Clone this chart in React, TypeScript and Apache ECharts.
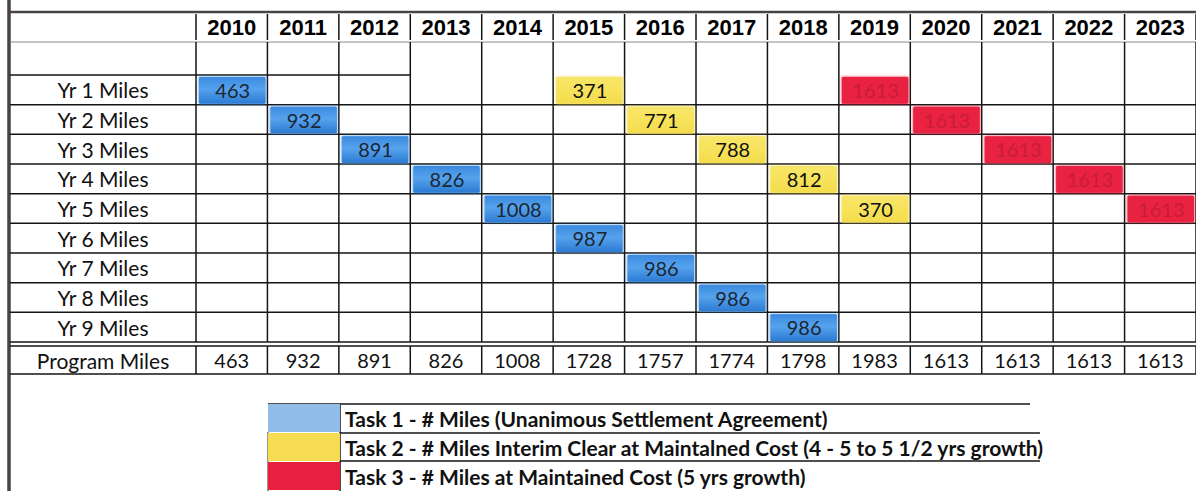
import React, { useEffect, useRef } from "react";
import * as echarts from "echarts";

// ---------- data ----------
const years = ["2010", "2011", "2012", "2013", "2014", "2015", "2016", "2017", "2018", "2019", "2020", "2021", "2022", "2023"];
const rowLabels = ["Yr 1 Miles", "Yr 2 Miles", "Yr 3 Miles", "Yr 4 Miles", "Yr 5 Miles", "Yr 6 Miles", "Yr 7 Miles", "Yr 8 Miles", "Yr 9 Miles"];
const programLabel = ["Program Miles"];
const programMiles = [463, 932, 891, 826, 1008, 1728, 1757, 1774, 1798, 1983, 1613, 1613, 1613, 1613];

const task1Cells: [string, string, number][] = [
  ["2010", "Yr 1 Miles", 463],
  ["2011", "Yr 2 Miles", 932],
  ["2012", "Yr 3 Miles", 891],
  ["2013", "Yr 4 Miles", 826],
  ["2014", "Yr 5 Miles", 1008],
  ["2015", "Yr 6 Miles", 987],
  ["2016", "Yr 7 Miles", 986],
  ["2017", "Yr 8 Miles", 986],
  ["2018", "Yr 9 Miles", 986],
];
const task2Cells: [string, string, number][] = [
  ["2015", "Yr 1 Miles", 371],
  ["2016", "Yr 2 Miles", 771],
  ["2017", "Yr 3 Miles", 788],
  ["2018", "Yr 4 Miles", 812],
  ["2019", "Yr 5 Miles", 370],
];
const task3Cells: [string, string, number][] = [
  ["2019", "Yr 1 Miles", 1613],
  ["2020", "Yr 2 Miles", 1613],
  ["2021", "Yr 3 Miles", 1613],
  ["2022", "Yr 4 Miles", 1613],
  ["2023", "Yr 5 Miles", 1613],
];
const mergedFromYear = "2013"; // blank row merged with Yr 1 from this year on
const legendNames = [
  "Task 1 - # Miles (Unanimous Settlement Agreement)",
  "Task 2 - # Miles Interim Clear at Maintalned Cost (4 - 5 to 5 1/2 yrs growth)",
  "Task 3 - # Miles at Maintained Cost (5 yrs growth)",
];

// ---------- style ----------
const LINE = "#151515";
const LW = 1.5;
const LABEL_LEFT = 10;
const COLW = 71.6;
const GRID_LEFT = 196;
const TEXT_FONT = "Lato";

function ln(x1: number, y1: number, x2: number, y2: number, stroke = LINE, lineWidth = LW) {
  return { type: "line", shape: { x1, y1, x2, y2 }, style: { stroke, lineWidth } };
}

function cellBox(api: any) {
  const c = api.coord([api.value(0), api.value(1)]);
  const s = api.size([1, 1]);
  return { x0: c[0] - s[0] / 2, x1: c[0] + s[0] / 2, y0: c[1] - s[1] / 2, y1: c[1] + s[1] / 2, cx: c[0], cy: c[1] };
}

function txt(text: string, x: number, y: number, fill: string, size: number, weight = "normal", family = TEXT_FONT) {
  return {
    type: "text",
    style: {
      text, x, y, fill,
      align: "center", verticalAlign: "middle",
      textAlign: "center", textVerticalAlign: "middle",
      fontSize: size, fontFamily: family, fontWeight: weight,
    },
  };
}

export default function App() {
  const ref = useRef<HTMLDivElement>(null);
  useEffect(() => {
    if (!ref.current) return;
    const chart = echarts.init(ref.current, undefined, { renderer: "svg" });
    const W = years.length * COLW;
    const mergedIdx = years.indexOf(mergedFromYear);

    const hiddenX = (gi: number) => ({
      type: "category", gridIndex: gi, data: years,
      axisLine: { show: false }, axisTick: { show: false }, axisLabel: { show: false }, splitLine: { show: false },
    });
    const hiddenY = (gi: number) => ({
      type: "category", gridIndex: gi, data: [""],
      axisLine: { show: false }, axisTick: { show: false }, axisLabel: { show: false }, splitLine: { show: false },
    });
    const labelAxis = (gi: number, data: string[]) => ({
      type: "category", gridIndex: gi, data, inverse: true,
      axisLine: { show: false }, axisTick: { show: false }, splitLine: { show: false },
      axisLabel: { margin: 93, align: "center", fontFamily: TEXT_FONT, fontSize: 21, color: "#111" },
    });

    const taskSeries = (name: string, cells: [string, string, number][], color: any, textColor: string, glow: string) => ({
      type: "custom", name, xAxisIndex: 2, yAxisIndex: 2,
      itemStyle: { color: glow },
      data: cells.map((c) => [c[0], c[1], c[2]]),
      renderItem: (_p: any, api: any) => {
        const b = cellBox(api);
        return {
          type: "group",
          children: [
            {
              type: "rect",
              shape: { x: b.x0 + 3, y: b.y0 + 2, width: b.x1 - b.x0 - 5, height: b.y1 - b.y0 - 3, r: 1 },
              style: { fill: color, shadowBlur: 3, shadowColor: glow },
            },
            txt(String(api.value(2)), b.cx + 1, b.cy, textColor, 20),
          ],
        };
      },
    });

    const blueGrad = new echarts.graphic.LinearGradient(0, 0, 0, 1, [
      { offset: 0, color: "#3a8ae0" },
      { offset: 0.45, color: "#56a2ec" },
      { offset: 1, color: "#2c7bd4" },
    ]);
    const yellowGrad = new echarts.graphic.LinearGradient(0, 0, 0, 1, [
      { offset: 0, color: "#f8e66a" },
      { offset: 0.5, color: "#f7e25a" },
      { offset: 1, color: "#f3dc4c" },
    ]);

    const option: any = {
      animation: false,
      backgroundColor: "#ffffff",
      grid: [
        { left: GRID_LEFT, top: 12, width: W, height: 30 },
        { left: GRID_LEFT, top: 42, width: W, height: 33 },
        { left: GRID_LEFT, top: 75, width: W, height: 267 },
        { left: GRID_LEFT, top: 346, width: W, height: 28 },
      ],
      xAxis: [
        {
          type: "category", gridIndex: 0, data: years, position: "bottom",
          axisLine: { show: false }, axisTick: { show: false }, splitLine: { show: false },
          axisLabel: {
            inside: true, margin: 15, verticalAlign: "middle",
            fontFamily: "Liberation Sans", fontWeight: "bold", fontSize: 22, color: "#000",
          },
        },
        hiddenX(1), hiddenX(2), hiddenX(3),
      ],
      yAxis: [hiddenY(0), hiddenY(1), labelAxis(2, rowLabels), labelAxis(3, programLabel)],
      legend: {
        orient: "vertical", left: 268, top: 404, padding: 0,
        itemWidth: 72, itemHeight: 28, itemGap: 1, icon: "rect", selectedMode: false,
        data: [
          { name: legendNames[0], itemStyle: { color: "#8fbde8" } },
          { name: legendNames[1], itemStyle: { color: "#f6dc50" } },
          { name: legendNames[2], itemStyle: { color: "#e8203f" } },
        ],
        textStyle: { fontFamily: TEXT_FONT, fontWeight: "bold", fontSize: 21, color: "#111" },
      },
      series: [
        // header borders
        {
          type: "custom", xAxisIndex: 0, yAxisIndex: 0, silent: true,
          data: years.map((y) => [y, ""]),
          renderItem: (_p: any, api: any) => {
            const b = cellBox(api);
            const i = api.value(0);
            const ch: any[] = [ln(b.x1, b.y0 + 2, b.x1, b.y1 - 2), ln(i === 0 ? LABEL_LEFT : b.x0, b.y1, b.x1, b.y1, "#8a8a8a", 1.2)];
            if (i === 0) ch.push(ln(b.x0, b.y0 + 2, b.x0, b.y1 - 2));
            return { type: "group", children: ch };
          },
        },
        // blank row borders
        {
          type: "custom", xAxisIndex: 1, yAxisIndex: 1, silent: true,
          data: years.map((y) => [y, ""]),
          renderItem: (_p: any, api: any) => {
            const b = cellBox(api);
            const i = api.value(0);
            const ch: any[] = [ln(b.x1, b.y0, b.x1, b.y1)];
            if (i < mergedIdx) ch.push(ln(i === 0 ? LABEL_LEFT : b.x0, b.y1, b.x1, b.y1));
            if (i === 0) ch.push(ln(b.x0, b.y0, b.x0, b.y1));
            return { type: "group", children: ch };
          },
        },
        // body borders
        {
          type: "custom", xAxisIndex: 2, yAxisIndex: 2, silent: true,
          data: rowLabels.flatMap((r) => years.map((y) => [y, r])),
          renderItem: (_p: any, api: any) => {
            const b = cellBox(api);
            const i = api.value(0);
            const ch: any[] = [ln(b.x1, b.y0, b.x1, b.y1), ln(i === 0 ? LABEL_LEFT : b.x0, b.y1, b.x1, b.y1)];
            if (i === 0) ch.push(ln(b.x0, b.y0, b.x0, b.y1));
            return { type: "group", children: ch };
          },
        },
        taskSeries(legendNames[0], task1Cells, blueGrad, "#1b2633", "#3a8fe4"),
        taskSeries(legendNames[1], task2Cells, yellowGrad, "#111111", "#f5df55"),
        taskSeries(legendNames[2], task3Cells, "#e8213f", "#c81d38", "#e8213f"),
        // program miles row
        {
          type: "custom", xAxisIndex: 3, yAxisIndex: 3, silent: true,
          data: years.map((y, i) => [y, programLabel[0], programMiles[i]]),
          renderItem: (_p: any, api: any) => {
            const b = cellBox(api);
            const i = api.value(0);
            const xl = i === 0 ? LABEL_LEFT : b.x0;
            const ch: any[] = [
              ln(xl, b.y0, b.x1, b.y0),
              ln(xl, b.y1, b.x1, b.y1),
              ln(b.x1, b.y0, b.x1, b.y1),
              txt(String(api.value(2)), b.cx, b.cy, "#111", 20),
            ];
            if (i === 0) ch.push(ln(b.x0, b.y0, b.x0, b.y1));
            return { type: "group", children: ch };
          },
        },
      ],
      graphic: [
        { type: "line", shape: { x1: 9, y1: 0, x2: 9, y2: 491 }, style: { stroke: "#4a4343", lineWidth: 3.5 } },
        { type: "line", shape: { x1: 8, y1: 12, x2: 1196, y2: 12 }, style: { stroke: "#4a4343", lineWidth: 2.5 } },
        { type: "line", shape: { x1: 268, y1: 404, x2: 1030, y2: 404 }, style: { stroke: LINE, lineWidth: 1.5 } },
        { type: "line", shape: { x1: 340, y1: 433, x2: 1040, y2: 433 }, style: { stroke: LINE, lineWidth: 1.5 } },
        { type: "line", shape: { x1: 340, y1: 461, x2: 1040, y2: 461 }, style: { stroke: LINE, lineWidth: 1.5 } },
        { type: "line", shape: { x1: 340, y1: 404, x2: 340, y2: 491 }, style: { stroke: LINE, lineWidth: 1.5 } },
        { type: "line", shape: { x1: 268, y1: 432, x2: 268, y2: 491 }, style: { stroke: "#333", lineWidth: 1 } },
      ],
    };
    chart.setOption(option);
    return () => chart.dispose();
  }, []);
  return <div ref={ref} style={{ position: "fixed", left: 0, top: 0, width: 1196, height: 491 }} />;
}
